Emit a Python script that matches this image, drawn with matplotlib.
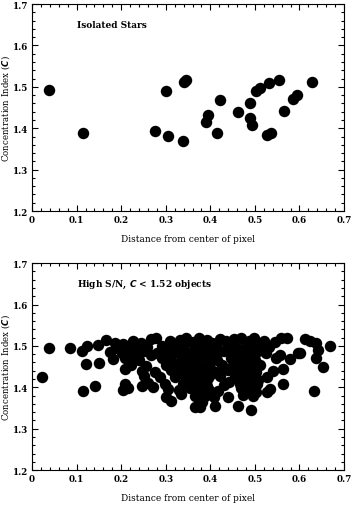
import matplotlib
matplotlib.use('Agg')
import matplotlib.pyplot as plt
from matplotlib.ticker import MultipleLocator

# isolated stars
iso_x = [0.037, 0.114, 0.275, 0.300, 0.304, 0.339, 0.340, 0.346, 0.391, 0.395,
         0.415, 0.421, 0.462, 0.490, 0.488, 0.494, 0.502, 0.511, 0.532, 0.526,
         0.535, 0.554, 0.565, 0.585, 0.594, 0.628]
iso_c = [1.492, 1.389, 1.393, 1.489, 1.381, 1.369, 1.511, 1.516, 1.415, 1.433,
         1.389, 1.468, 1.439, 1.460, 1.425, 1.407, 1.489, 1.496, 1.509, 1.384,
         1.389, 1.517, 1.441, 1.470, 1.480, 1.512]

# high S/N, C < 1.52 objects
hsn_x = [
    # upper row
    0.165, 0.186, 0.204, 0.226, 0.244, 0.268, 0.279, 0.309, 0.331, 0.346,
    0.361, 0.374, 0.392, 0.404, 0.421, 0.436, 0.452, 0.469, 0.486, 0.499,
    0.521, 0.544, 0.559, 0.571, 0.612, 0.624, 0.636,
    # ~1.50
    0.037, 0.085, 0.124, 0.147, 0.191, 0.214, 0.236, 0.259, 0.291, 0.318,
    0.341, 0.366, 0.379, 0.398, 0.412, 0.441, 0.459, 0.481, 0.494, 0.512,
    0.531, 0.601, 0.668,
    # ~1.485
    0.112, 0.176, 0.201, 0.224, 0.251, 0.281, 0.302, 0.326, 0.352, 0.371,
    0.389, 0.418, 0.431, 0.456, 0.474, 0.491, 0.506, 0.524, 0.556, 0.597,
    0.641,
    # ~1.47
    0.182, 0.209, 0.239, 0.292, 0.311, 0.336, 0.356, 0.376, 0.401, 0.414,
    0.446, 0.466, 0.484, 0.501, 0.548, 0.578, 0.636,
    # ~1.455
    0.122, 0.150, 0.221, 0.256, 0.301, 0.321, 0.344, 0.362, 0.381, 0.396,
    0.426, 0.451, 0.471, 0.489, 0.511,
    # ~1.44
    0.208, 0.246, 0.276, 0.311, 0.331, 0.354, 0.371, 0.386, 0.406, 0.439,
    0.461, 0.479, 0.502, 0.541, 0.563, 0.653,
    # ~1.425
    0.023, 0.251, 0.286, 0.321, 0.346, 0.364, 0.381, 0.394, 0.421, 0.456,
    0.476, 0.496, 0.526,
    # ~1.41
    0.209, 0.261, 0.299, 0.339, 0.359, 0.376, 0.391, 0.431, 0.466, 0.486,
    0.504, 0.563,
    # ~1.395
    0.114, 0.141, 0.203, 0.216, 0.246, 0.271, 0.304, 0.329, 0.354, 0.369,
    0.396, 0.417, 0.469, 0.489, 0.503, 0.526, 0.533, 0.632,
    # ~1.38
    0.301, 0.335, 0.366, 0.389, 0.409, 0.440, 0.474, 0.496,
    # lowest
    0.312, 0.381, 0.365, 0.376, 0.410, 0.462, 0.492,
    # core filling
    0.356, 0.384, 0.401, 0.369, 0.392, 0.409, 0.349, 0.378, 0.462, 0.478,
    0.493, 0.507, 0.469, 0.484, 0.498, 0.336, 0.351, 0.416, 0.446, 0.231,
    0.266, 0.296, 0.426, 0.441,
]
hsn_c = [
    1.514, 1.508, 1.504, 1.511, 1.506, 1.516, 1.520, 1.512, 1.515, 1.518,
    1.510, 1.519, 1.514, 1.508, 1.517, 1.511, 1.516, 1.520, 1.513, 1.518,
    1.512, 1.509, 1.518, 1.519, 1.516, 1.512, 1.507,
    1.494, 1.495, 1.500, 1.502, 1.496, 1.492, 1.501, 1.497, 1.499, 1.494,
    1.501, 1.496, 1.503, 1.497, 1.499, 1.502, 1.495, 1.499, 1.496, 1.501,
    1.497, 1.484, 1.500,
    1.487, 1.486, 1.483, 1.481, 1.488, 1.484, 1.480, 1.486, 1.483, 1.487,
    1.482, 1.485, 1.488, 1.481, 1.486, 1.483, 1.487, 1.482, 1.478, 1.484,
    1.490,
    1.468, 1.472, 1.466, 1.471, 1.467, 1.470, 1.465, 1.472, 1.468, 1.466,
    1.471, 1.467, 1.470, 1.465, 1.472, 1.468, 1.472,
    1.456, 1.458, 1.453, 1.452, 1.455, 1.457, 1.452, 1.456, 1.454, 1.457,
    1.453, 1.455, 1.452, 1.456, 1.454,
    1.444, 1.440, 1.437, 1.441, 1.438, 1.442, 1.436, 1.441, 1.439, 1.443,
    1.437, 1.441, 1.438, 1.440, 1.444, 1.448,
    1.426, 1.428, 1.424, 1.426, 1.423, 1.427, 1.425, 1.422, 1.427, 1.424,
    1.426, 1.423, 1.424,
    1.408, 1.411, 1.409, 1.407, 1.412, 1.408, 1.410, 1.406, 1.409, 1.411,
    1.407, 1.408,
    1.390, 1.402, 1.394, 1.398, 1.402, 1.400, 1.396, 1.393, 1.399, 1.395,
    1.394, 1.392, 1.398, 1.396, 1.388, 1.388, 1.396, 1.390,
    1.376, 1.384, 1.378, 1.380, 1.377, 1.376, 1.382, 1.379,
    1.368, 1.364, 1.352, 1.352, 1.356, 1.356, 1.346,
    1.462, 1.447, 1.432, 1.417, 1.402, 1.476, 1.432, 1.392, 1.462, 1.447,
    1.432, 1.417, 1.402, 1.462, 1.476, 1.492, 1.418, 1.507, 1.492, 1.477,
    1.477, 1.492, 1.442, 1.412,
]

x_ticks = [0, 0.1, 0.2, 0.3, 0.4, 0.5, 0.6, 0.7]
x_labels = ['0', '0.1', '0.2', '0.3', '0.4', '0.5', '0.6', '0.7']
y_ticks = [1.2, 1.3, 1.4, 1.5, 1.6, 1.7]
y_labels = ['1.2', '1.3', '1.4', '1.5', '1.6', '1.7']

plt.rcParams['font.family'] = 'DejaVu Serif'
plt.rcParams['font.weight'] = 'bold'
plt.rcParams['font.size'] = 6.5

fig = plt.figure(figsize=(3.53, 5.06), dpi=100)
ax1 = fig.add_axes([0.0907, 0.581, 0.884, 0.409])
ax2 = fig.add_axes([0.0907, 0.069, 0.884, 0.409])

panels = [(ax1, iso_x, iso_c, 'Isolated Stars'),
          (ax2, hsn_x, hsn_c, r'High S/N, $\mathit{C}$ < 1.52 objects')]

for ax, xs, cs, label in panels:
    ax.scatter(xs, cs, s=68, color='black', linewidths=0)
    ax.set_xlim(0, 0.7)
    ax.set_ylim(1.2, 1.7)
    ax.set_xticks(x_ticks)
    ax.set_xticklabels(x_labels)
    ax.set_yticks(y_ticks)
    ax.set_yticklabels(y_labels)
    ax.xaxis.set_minor_locator(MultipleLocator(0.02))
    ax.yaxis.set_minor_locator(MultipleLocator(0.02))
    ax.tick_params(which='both', direction='in', top=True, right=True, width=0.8)
    ax.tick_params(which='major', length=4, labelsize=6.3, pad=3)
    ax.tick_params(which='minor', length=2)
    for sp in ax.spines.values():
        sp.set_linewidth(0.8)
    ax.text(0.102, 1.65, label, fontsize=6.5, va='center', ha='left')
    ax.set_xlabel('Distance from center of pixel', fontsize=6.5, labelpad=7)
    ax.set_ylabel(r'Concentration Index ($\mathit{C}$)', fontsize=6.2)
    ax.yaxis.set_label_coords(-0.064, 0.5)

fig.savefig('out.png', dpi=100)
